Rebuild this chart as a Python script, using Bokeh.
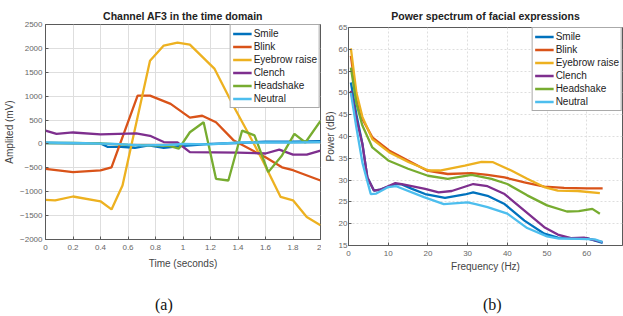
from bokeh.plotting import figure
from bokeh.layouts import row, column
from bokeh.models import Legend, LegendItem, FixedTicker, Div
from bokeh.embed import file_html
from bokeh.resources import INLINE

# ---------------- data: (a) time domain ----------------
series_names = ["Smile", "Blink", "Eyebrow raise", "Clench", "Headshake", "Neutral"]
series_colors = ["#0072BD", "#D95319", "#EDB120", "#7E2F8E", "#77AC30", "#4DBEEE"]

smile_t = [0, 0.2, 0.4, 0.45, 0.55, 0.65, 0.75, 0.86, 0.96, 1.2, 1.4, 1.6, 1.8, 2.0]
smile_v = [20, 10, 10, -60, -60, -80, -30, -80, -50, 0, 20, 50, 50, 60]

blink_t = [0, 0.2, 0.4, 0.48, 0.67, 0.76, 0.91, 1.05, 1.14, 1.24, 1.37, 1.6, 1.72, 1.8, 2.0]
blink_v = [-520, -590, -555, -490, 1010, 1010, 840, 550, 590, 455, 70, -280, -490, -550, -765]

brow_t = [0, 0.07, 0.2, 0.4, 0.48, 0.56, 0.76, 0.86, 0.96, 1.05, 1.23, 1.37, 1.47, 1.58, 1.71, 1.8, 1.9, 2.0]
brow_v = [-1170, -1180, -1100, -1200, -1370, -870, 1740, 2060, 2120, 2080, 1570, 780, 250, -350, -1110, -1180, -1530, -1700]

clench_t = [0, 0.08, 0.2, 0.4, 0.66, 0.76, 0.86, 0.96, 1.05, 1.4, 1.6, 1.7, 1.8, 1.9, 2.0]
clench_v = [280, 210, 240, 200, 220, 170, 40, 30, -170, -180, -200, -120, -225, -225, -140]

shake_t = [0, 0.2, 0.4, 0.6, 0.8, 0.9, 0.97, 1.05, 1.15, 1.24, 1.33, 1.43, 1.52, 1.62, 1.72, 1.81, 1.89, 2.0]
shake_v = [20, 20, 10, -20, -30, -40, -100, 245, 455, -730, -765, 280, 180, -590, -240, 210, 30, 480]

neutral_t = [0, 0.2, 0.5, 0.7, 0.9, 1.0, 1.2, 1.4, 1.6, 1.8, 2.0]
neutral_v = [30, 20, 0, -30, -20, 0, -10, 30, 30, 30, 40]

time_ticks = [0, 0.2, 0.4, 0.6, 0.8, 1.0, 1.2, 1.4, 1.6, 1.8, 2.0]
amp_ticks = [-2000, -1500, -1000, -500, 0, 500, 1000, 1500, 2000, 2500]

# ---------------- data: (b) power spectrum ----------------
freq_smile = [0.6, 2, 3.5, 4.75, 6.4, 8, 11.8, 13.4, 16, 19.3, 24.3, 29.3, 31.4, 35, 39.3, 44.3, 49.3, 52.7, 56, 60, 64]
pow_smile = [52.4, 45, 38.3, 30.6, 27.6, 27.8, 29.1, 29.0, 28.0, 26.8, 25.9, 26.7, 27.2, 26.4, 24.5, 20.7, 17.7, 16.8, 16.7, 16.7, 15.6]

freq_blink = [0.6, 2, 3.5, 6, 10.2, 15.2, 19.75, 25, 31, 35, 39.3, 44.3, 49.3, 54.3, 60, 64]
pow_blink = [58.5, 49, 44, 39.8, 36.8, 34.4, 32.2, 31.4, 31.6, 31.2, 30.6, 29.5, 28.5, 28.2, 28.1, 28.1]

freq_brow = [0.6, 2, 3.5, 6, 10.2, 15.2, 20.2, 23, 29.3, 33.5, 36.4, 41, 45, 49.3, 52.7, 57.7, 63.3]
pow_brow = [60.2, 50, 44.5, 39.4, 36.4, 34.1, 32.2, 32.2, 33.3, 34.2, 34.1, 32.2, 30.3, 28.4, 27.6, 27.5, 27.0]

freq_clench = [0.6, 2, 3.5, 4.75, 6.4, 8, 11.8, 13.4, 19.3, 22.7, 26, 31.4, 35, 39.3, 44.3, 49.3, 52.7, 56, 59.3, 64]
pow_clench = [50.5, 44, 38.3, 30.6, 27.6, 27.8, 29.3, 29.1, 28.0, 27.2, 27.5, 29.1, 28.6, 26.8, 23.0, 19.2, 17.5, 16.7, 16.8, 15.8]

freq_shake = [0.6, 2, 3.5, 6, 10, 15, 20, 25, 31, 36, 40, 45, 50, 55, 58, 61.4, 63.3]
pow_shake = [55.8, 47.5, 42.5, 37.5, 34.5, 32.6, 31.0, 30.3, 31.2, 30.3, 29.1, 26.5, 24.2, 22.8, 22.9, 23.4, 22.3]

freq_neutral = [0.6, 2, 3.5, 5.6, 7, 10, 12, 19, 24, 30, 32, 35, 40, 45, 50, 53, 58, 62, 64]
pow_neutral = [50.0, 42, 34, 26.8, 26.9, 28.4, 28.6, 26.1, 24.5, 24.9, 24.5, 23.8, 22.3, 19.0, 17.1, 16.6, 16.5, 16.4, 15.8]

freq_ticks = [0, 10, 20, 30, 40, 50, 60, 70]
pow_ticks = [15, 20, 25, 30, 35, 40, 45, 50, 55, 60, 65]

FONT = "Liberation Sans"
AXIS_COLOR = "#5a5a5a"
TEXT_COLOR = "#444444"


def style(p, xticks, yticks, dash, xlabel_standoff, ylabel_standoff, ytick_standoff, title_standoff):
    p.outline_line_color = AXIS_COLOR
    p.outline_line_width = 1
    p.background_fill_color = "white"
    p.border_fill_color = "white"
    for ax in (p.xaxis[0], p.yaxis[0]):
        ax.axis_line_color = AXIS_COLOR
        ax.major_tick_line_color = AXIS_COLOR
        ax.major_tick_in = 3
        ax.major_tick_out = 0
        ax.minor_tick_line_color = None
        ax.major_label_text_font = FONT
        ax.major_label_text_font_size = "8px"
        ax.major_label_text_color = "#666666"
        ax.axis_label_text_font = FONT
        ax.axis_label_text_font_size = "10px"
        ax.axis_label_text_font_style = "normal"
        ax.axis_label_text_color = TEXT_COLOR
    p.xaxis[0].axis_label_standoff = xlabel_standoff
    p.yaxis[0].axis_label_standoff = ylabel_standoff
    p.xaxis[0].major_label_standoff = 5
    p.yaxis[0].major_label_standoff = ytick_standoff
    p.xaxis[0].ticker = FixedTicker(ticks=xticks)
    p.yaxis[0].ticker = FixedTicker(ticks=yticks)
    for g in (p.xgrid[0], p.ygrid[0]):
        g.grid_line_color = "#dedede"
        g.grid_line_width = 1
        g.grid_line_dash = dash
    p.title.text_font = FONT
    p.title.text_font_size = "10.5px"
    p.title.text_font_style = "bold"
    p.title.text_color = "#222222"
    p.title.align = "center"
    p.title.vertical_align = "top"
    p.title.standoff = title_standoff


def add_legend(p, renderers):
    items = [LegendItem(label=n, renderers=[r]) for n, r in zip(series_names, renderers)]
    lg = Legend(items=items, location="top_right")
    lg.margin = 0
    lg.padding = 2
    lg.spacing = 0
    lg.label_height = 13
    lg.glyph_height = 13
    lg.glyph_width = 19
    lg.label_standoff = 2
    lg.label_text_font = FONT
    lg.label_text_font_size = "10px"
    lg.label_text_color = "#222222"
    lg.border_line_color = "#555555"
    lg.border_line_width = 1
    lg.background_fill_alpha = 1.0
    p.add_layout(lg)


def panel_div(text, width, height, left, top):
    html = ('<div style="margin:0;padding:%dpx 0 0 %dpx;font-family:\'Liberation Serif\',serif;'
            'font-size:16px;line-height:16px;color:#111111;white-space:nowrap;">%s</div>') % (top, left, text)
    return Div(text=html, width=width, height=height, margin=(0, 0, 0, 0))


# ---------------- left figure ----------------
H1 = 275
p1 = figure(width=321, height=H1, output_backend="svg", toolbar_location=None,
            x_range=(0, 2), y_range=(-2000, 2500),
            title="Channel AF3 in the time domain",
            x_axis_label="Time (seconds)", y_axis_label="Amplited (mV)",
            min_border_left=45, min_border_right=1, min_border_top=24, min_border_bottom=H1 - 239,
            margin=(0, 0, 0, 0))
style(p1, time_ticks, amp_ticks, "solid", 5, 2, 3, 1)
ts = [(smile_t, smile_v), (blink_t, blink_v), (brow_t, brow_v),
      (clench_t, clench_v), (shake_t, shake_v), (neutral_t, neutral_v)]
r1 = [p1.line(x, y, line_color=c, line_width=2.3) for (x, y), c in zip(ts, series_colors)]
add_legend(p1, r1)
div_a = panel_div("(a)", 321, 316 - H1, 155, 22)

# ---------------- right figure ----------------
H2 = 280
p2 = figure(width=302, height=H2, output_backend="svg", toolbar_location=None,
            x_range=(0, 69), y_range=(15, 65),
            title="Power spectrum of facial expressions",
            x_axis_label="Frequency (Hz)", y_axis_label="Power (dB)",
            min_border_left=25, min_border_right=1, min_border_top=27, min_border_bottom=H2 - 245,
            margin=(0, 0, 0, 0))
style(p2, freq_ticks, pow_ticks, "2 2", 2, 0, 1, 7)
fs = [(freq_smile, pow_smile), (freq_blink, pow_blink), (freq_brow, pow_brow),
      (freq_clench, pow_clench), (freq_shake, pow_shake), (freq_neutral, pow_neutral)]
r2 = [p2.line(x, y, line_color=c, line_width=2.3) for (x, y), c in zip(fs, series_colors)]
add_legend(p2, r2)
div_b = panel_div("(b)", 302, 316 - H2, 162, 17)

layout = row(column(p1, div_a, spacing=0), column(p2, div_b, spacing=0), spacing=0)
open("out.html", "w").write(file_html(layout, INLINE))
